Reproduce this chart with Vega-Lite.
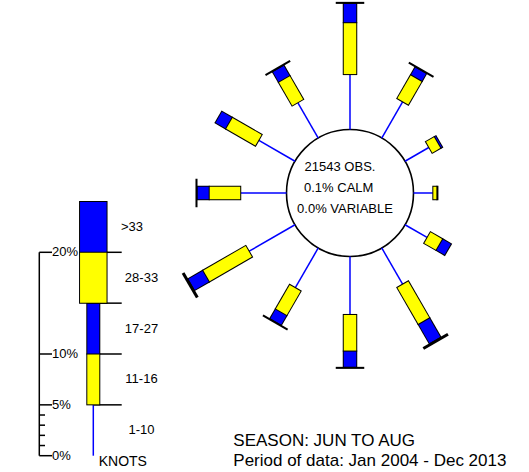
{
  "$schema": "https://vega.github.io/schema/vega-lite/v6.json",
  "width": 529,
  "height": 472,
  "autosize": {"type": "none"},
  "padding": 0,
  "config": {"view": {"stroke": null}, "text": {"font": "Liberation Sans", "color": "black"}},
  "datasets": {
    "rose": [
      {"dir": 0, "speed": "1-10", "pct": 5.4}, {"dir": 0, "speed": "11-16", "pct": 5.1}, {"dir": 0, "speed": "17-27", "pct": 1.9}, {"dir": 0, "speed": "28-33", "pct": 0.1},
      {"dir": 30, "speed": "1-10", "pct": 4.1}, {"dir": 30, "speed": "11-16", "pct": 2.7}, {"dir": 30, "speed": "17-27", "pct": 0.9}, {"dir": 30, "speed": "28-33", "pct": 0.1},
      {"dir": 60, "speed": "1-10", "pct": 2.7}, {"dir": 60, "speed": "11-16", "pct": 1.0}, {"dir": 60, "speed": "17-27", "pct": 0.2},
      {"dir": 90, "speed": "1-10", "pct": 1.9}, {"dir": 90, "speed": "11-16", "pct": 0.4}, {"dir": 90, "speed": "17-27", "pct": 0.1},
      {"dir": 120, "speed": "1-10", "pct": 2.5}, {"dir": 120, "speed": "11-16", "pct": 1.4}, {"dir": 120, "speed": "17-27", "pct": 1.0},
      {"dir": 150, "speed": "1-10", "pct": 4.1}, {"dir": 150, "speed": "11-16", "pct": 4.2}, {"dir": 150, "speed": "17-27", "pct": 2.2}, {"dir": 150, "speed": "28-33", "pct": 0.2},
      {"dir": 180, "speed": "1-10", "pct": 5.7}, {"dir": 180, "speed": "11-16", "pct": 3.6}, {"dir": 180, "speed": "17-27", "pct": 1.6}, {"dir": 180, "speed": "28-33", "pct": 0.1},
      {"dir": 210, "speed": "1-10", "pct": 4.5}, {"dir": 210, "speed": "11-16", "pct": 2.8}, {"dir": 210, "speed": "17-27", "pct": 1.1}, {"dir": 210, "speed": "28-33", "pct": 0.1},
      {"dir": 240, "speed": "1-10", "pct": 5.2}, {"dir": 240, "speed": "11-16", "pct": 4.9}, {"dir": 240, "speed": "17-27", "pct": 1.7}, {"dir": 240, "speed": "28-33", "pct": 0.2},
      {"dir": 270, "speed": "1-10", "pct": 4.5}, {"dir": 270, "speed": "11-16", "pct": 3.1}, {"dir": 270, "speed": "17-27", "pct": 1.2}, {"dir": 270, "speed": "28-33", "pct": 0.1},
      {"dir": 300, "speed": "1-10", "pct": 4.1}, {"dir": 300, "speed": "11-16", "pct": 3.4}, {"dir": 300, "speed": "17-27", "pct": 1.2},
      {"dir": 330, "speed": "1-10", "pct": 4.0}, {"dir": 330, "speed": "11-16", "pct": 2.7}, {"dir": 330, "speed": "17-27", "pct": 1.2}, {"dir": 330, "speed": "28-33", "pct": 0.1}
    ],
    "legend": [
      {"speed": "1-10", "lo": 0, "hi": 5},
      {"speed": "11-16", "lo": 5, "hi": 10},
      {"speed": "17-27", "lo": 10, "hi": 15},
      {"speed": "28-33", "lo": 15, "hi": 20},
      {"speed": ">33", "lo": 20, "hi": 25}
    ],
    "ticks": [
      {"v": 0, "label": "0%"}, {"v": 1, "label": ""}, {"v": 2, "label": ""}, {"v": 3, "label": ""}, {"v": 4, "label": ""},
      {"v": 5, "label": "5%"}, {"v": 10, "label": "10%"}, {"v": 20, "label": "20%"}
    ],
    "notes": [
      {"text": "21543 OBS.", "kind": "center", "line": 1},
      {"text": "0.1% CALM", "kind": "center", "line": 2},
      {"text": "0.0% VARIABLE", "kind": "center", "line": 3},
      {"text": "SEASON: JUN TO AUG", "kind": "foot", "line": 1},
      {"text": "Period of data: Jan 2004 - Dec 2013", "kind": "foot", "line": 2},
      {"text": "KNOTS", "kind": "unit", "line": 1}
    ]
  },
  "layer": [
    {
      "data": {"values": [{"what": "calm circle"}]},
      "transform": [{"calculate": "34.415", "as": "cx"}, {"calculate": "27.434", "as": "cy"}],
      "mark": {"type": "point", "shape": "circle", "size": 16129, "filled": true, "fill": "white", "stroke": "black", "strokeWidth": 1.6, "opacity": 1},
      "encoding": {
        "x": {"field": "cx", "type": "quantitative", "scale": {"domain": [0, 52.016], "nice": false, "zero": false}, "axis": null},
        "y": {"field": "cy", "type": "quantitative", "scale": {"domain": [0, 46.411], "nice": false, "zero": false}, "axis": null}
      }
    },
    {
      "data": {"name": "rose"},
      "transform": [
        {"window": [{"op": "sum", "field": "pct", "as": "cum"}], "groupby": ["dir"], "sort": [{"field": "speed", "order": "ascending"}], "frame": [null, 0]},
        {"calculate": "6.244 + datum.cum - datum.pct", "as": "r0"},
        {"calculate": "6.244 + datum.cum", "as": "r1"},
        {"calculate": "sin(datum.dir * PI / 180)", "as": "s"},
        {"calculate": "cos(datum.dir * PI / 180)", "as": "c"},
        {"calculate": "34.415 + datum.r0 * datum.s", "as": "x0"},
        {"calculate": "27.434 + datum.r0 * datum.c", "as": "y0"},
        {"calculate": "34.415 + datum.r1 * datum.s", "as": "x1"},
        {"calculate": "27.434 + datum.r1 * datum.c", "as": "y1"},
        {"calculate": "34.415 + (datum.r0 - 0.05) * datum.s", "as": "bx0"},
        {"calculate": "27.434 + (datum.r0 - 0.05) * datum.c", "as": "by0"},
        {"calculate": "34.415 + (datum.r1 + 0.05) * datum.s", "as": "bx1"},
        {"calculate": "27.434 + (datum.r1 + 0.05) * datum.c", "as": "by1"},
        {"calculate": "datum.r0 + 0.05", "as": "ir0"},
        {"calculate": "datum.pct < 0.25 && (datum.speed === '28-33' || datum.speed === '>33') ? datum.ir0 : max(datum.ir0, datum.r1 - 0.05)", "as": "ir1"},
        {"calculate": "34.415 + datum.ir0 * datum.s", "as": "ix0"},
        {"calculate": "27.434 + datum.ir0 * datum.c", "as": "iy0"},
        {"calculate": "34.415 + datum.ir1 * datum.s", "as": "ix1"},
        {"calculate": "27.434 + datum.ir1 * datum.c", "as": "iy1"}
      ],
      "layer": [
        {
          "transform": [{"filter": "datum.speed === '1-10'"}],
          "mark": {"type": "rule", "color": "#0000FF", "strokeWidth": 1.5},
          "encoding": {
            "x": {"field": "x0", "type": "quantitative"},
            "y": {"field": "y0", "type": "quantitative"},
            "x2": {"field": "x1"},
            "y2": {"field": "y1"}
          }
        },
        {
          "transform": [{"filter": "datum.speed === '11-16' || datum.speed === '17-27'"}],
          "mark": {"type": "rule", "color": "black", "strokeWidth": 14.5, "strokeCap": "butt"},
          "encoding": {
            "x": {"field": "bx0", "type": "quantitative"},
            "y": {"field": "by0", "type": "quantitative"},
            "x2": {"field": "bx1"},
            "y2": {"field": "by1"}
          }
        },
        {
          "transform": [{"filter": "datum.speed === '11-16' || datum.speed === '17-27'"}],
          "mark": {"type": "rule", "strokeWidth": 12.5, "strokeCap": "butt", "opacity": 1},
          "encoding": {
            "x": {"field": "ix0", "type": "quantitative"},
            "y": {"field": "iy0", "type": "quantitative"},
            "x2": {"field": "ix1"},
            "y2": {"field": "iy1"},
            "color": {"field": "speed", "type": "nominal", "scale": {"domain": ["1-10", "11-16", "17-27", "28-33", ">33"], "range": ["#0000FF", "#FFFF00", "#0000FF", "#FFFF00", "#0000FF"]}, "legend": null}
          }
        },
        {
          "transform": [{"filter": "datum.speed === '28-33' || datum.speed === '>33'"}],
          "mark": {"type": "rule", "color": "black", "strokeWidth": 28.5, "strokeCap": "butt"},
          "encoding": {
            "x": {"field": "bx0", "type": "quantitative"},
            "y": {"field": "by0", "type": "quantitative"},
            "x2": {"field": "bx1"},
            "y2": {"field": "by1"}
          }
        },
        {
          "transform": [{"filter": "datum.speed === '28-33' || datum.speed === '>33'"}],
          "mark": {"type": "rule", "strokeWidth": 26.5, "strokeCap": "butt", "opacity": 1},
          "encoding": {
            "x": {"field": "ix0", "type": "quantitative"},
            "y": {"field": "iy0", "type": "quantitative"},
            "x2": {"field": "ix1"},
            "y2": {"field": "iy1"},
            "color": {"field": "speed", "type": "nominal", "legend": null}
          }
        }
      ]
    },
    {
      "data": {"name": "ticks"},
      "transform": [
        {"calculate": "3.864", "as": "ax"},
        {"calculate": "1.603 + datum.v", "as": "ty"},
        {"calculate": "1.603", "as": "abot"},
        {"calculate": "21.603", "as": "atop"},
        {"calculate": "datum.label !== '' ? 5.113 : 4.425", "as": "tx2"},
        {"calculate": "5.113", "as": "lx"}
      ],
      "layer": [
        {
          "transform": [{"filter": "datum.v === 0"}],
          "mark": {"type": "rule", "color": "black", "strokeWidth": 1.5},
          "encoding": {
            "x": {"field": "ax", "type": "quantitative"},
            "y": {"field": "abot", "type": "quantitative"},
            "y2": {"field": "atop"}
          }
        },
        {
          "mark": {"type": "rule", "color": "black", "strokeWidth": 1.5},
          "encoding": {
            "x": {"field": "ax", "type": "quantitative"},
            "x2": {"field": "tx2"},
            "y": {"field": "ty", "type": "quantitative"}
          }
        },
        {
          "transform": [{"filter": "datum.label !== ''"}],
          "mark": {"type": "text", "align": "left", "baseline": "middle", "fontSize": 13},
          "encoding": {
            "x": {"field": "lx", "type": "quantitative"},
            "y": {"field": "ty", "type": "quantitative"},
            "text": {"field": "label"}
          }
        }
      ]
    },
    {
      "data": {"name": "legend"},
      "transform": [
        {"calculate": "9.174", "as": "lx"},
        {"calculate": "11.967", "as": "sx2"},
        {"calculate": "datum.speed === '>33' ? 12.98 : 13.913", "as": "tx"},
        {"calculate": "1.603 + datum.lo", "as": "ly0"},
        {"calculate": "1.603 + datum.hi", "as": "ly1"},
        {"calculate": "1.603 + datum.lo - 0.05", "as": "bly0"},
        {"calculate": "1.603 + datum.hi + 0.05", "as": "bly1"},
        {"calculate": "1.603 + datum.lo + 0.05", "as": "ily0"},
        {"calculate": "1.603 + datum.hi - 0.05", "as": "ily1"},
        {"calculate": "1.603 + (datum.lo + datum.hi) / 2", "as": "lmid"}
      ],
      "layer": [
        {
          "transform": [{"filter": "datum.lo > 0"}],
          "mark": {"type": "rule", "color": "black", "strokeWidth": 1.5},
          "encoding": {
            "x": {"field": "lx", "type": "quantitative"},
            "x2": {"field": "sx2"},
            "y": {"field": "ly0", "type": "quantitative"}
          }
        },
        {
          "transform": [{"filter": "datum.speed === '1-10'"}],
          "mark": {"type": "rule", "color": "#0000FF", "strokeWidth": 1.5},
          "encoding": {
            "x": {"field": "lx", "type": "quantitative"},
            "y": {"field": "ly0", "type": "quantitative"},
            "y2": {"field": "ly1"}
          }
        },
        {
          "transform": [{"filter": "datum.speed === '11-16' || datum.speed === '17-27'"}],
          "mark": {"type": "rule", "color": "black", "strokeWidth": 14, "strokeCap": "butt"},
          "encoding": {
            "x": {"field": "lx", "type": "quantitative"},
            "y": {"field": "bly0", "type": "quantitative"},
            "y2": {"field": "bly1"}
          }
        },
        {
          "transform": [{"filter": "datum.speed === '11-16' || datum.speed === '17-27'"}],
          "mark": {"type": "rule", "strokeWidth": 12, "strokeCap": "butt", "opacity": 1},
          "encoding": {
            "x": {"field": "lx", "type": "quantitative"},
            "y": {"field": "ily0", "type": "quantitative"},
            "y2": {"field": "ily1"},
            "color": {"field": "speed", "type": "nominal", "legend": null}
          }
        },
        {
          "transform": [{"filter": "datum.speed === '28-33' || datum.speed === '>33'"}],
          "mark": {"type": "rule", "color": "black", "strokeWidth": 28.5, "strokeCap": "butt"},
          "encoding": {
            "x": {"field": "lx", "type": "quantitative"},
            "y": {"field": "bly0", "type": "quantitative"},
            "y2": {"field": "bly1"}
          }
        },
        {
          "transform": [{"filter": "datum.speed === '28-33' || datum.speed === '>33'"}],
          "mark": {"type": "rule", "strokeWidth": 26.5, "strokeCap": "butt", "opacity": 1},
          "encoding": {
            "x": {"field": "lx", "type": "quantitative"},
            "y": {"field": "ily0", "type": "quantitative"},
            "y2": {"field": "ily1"},
            "color": {"field": "speed", "type": "nominal", "legend": null}
          }
        },
        {
          "mark": {"type": "text", "align": "center", "baseline": "middle", "fontSize": 13},
          "encoding": {
            "x": {"field": "tx", "type": "quantitative"},
            "y": {"field": "lmid", "type": "quantitative"},
            "text": {"field": "speed"}
          }
        }
      ]
    },
    {
      "data": {"name": "notes"},
      "transform": [
        {"filter": "datum.kind === 'center'"},
        {"calculate": "datum.line === 1 ? 33.432 : datum.line === 2 ? 33.304 : 33.923", "as": "nx"},
        {"calculate": "datum.line === 1 ? 30.02 : datum.line === 2 ? 27.95 : 25.86", "as": "ny"}
      ],
      "mark": {"type": "text", "align": "center", "baseline": "middle", "fontSize": 13},
      "encoding": {
        "x": {"field": "nx", "type": "quantitative"},
        "y": {"field": "ny", "type": "quantitative"},
        "text": {"field": "text"}
      }
    },
    {
      "data": {"name": "notes"},
      "transform": [
        {"filter": "datum.kind === 'foot'"},
        {"calculate": "22.94", "as": "nx"},
        {"calculate": "datum.line === 1 ? 2.557 : 0.59", "as": "ny"}
      ],
      "mark": {"type": "text", "align": "left", "baseline": "alphabetic", "fontSize": 17},
      "encoding": {
        "x": {"field": "nx", "type": "quantitative"},
        "y": {"field": "ny", "type": "quantitative"},
        "text": {"field": "text"}
      }
    },
    {
      "data": {"name": "notes"},
      "transform": [
        {"filter": "datum.kind === 'unit'"},
        {"calculate": "12.075", "as": "nx"},
        {"calculate": "1.013", "as": "ny"}
      ],
      "mark": {"type": "text", "align": "center", "baseline": "middle", "fontSize": 14},
      "encoding": {
        "x": {"field": "nx", "type": "quantitative"},
        "y": {"field": "ny", "type": "quantitative"},
        "text": {"field": "text"}
      }
    }
  ]
}
